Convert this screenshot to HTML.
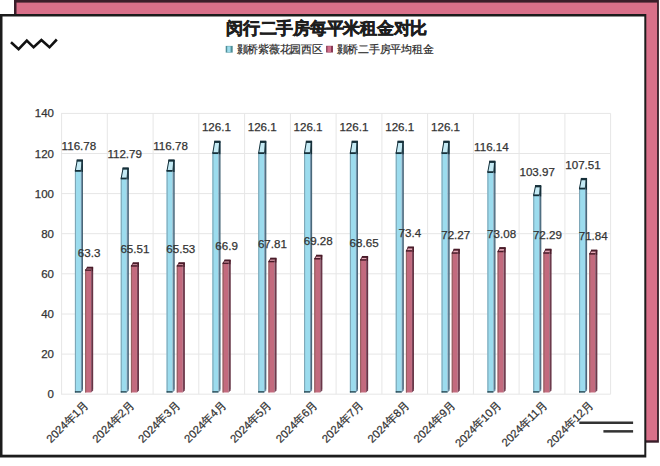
<!DOCTYPE html>
<html><head><meta charset="utf-8"><style>
html,body{margin:0;padding:0;width:660px;height:466px;overflow:hidden;background:#fff}
svg{display:block}
text{font-family:"Liberation Sans",sans-serif;fill:#333;stroke:#333;stroke-width:0.25px}
.ax{font-size:11.5px}
.lb{font-size:11.6px}
.xl{font-size:11.2px}
.tt{font-size:16.8px;font-weight:bold;fill:#1e1e1e;stroke:#1e1e1e;stroke-width:0.55px;letter-spacing:-0.25px}
.lg{font-size:10.7px;fill:#2a2a2a;stroke:#2a2a2a;stroke-width:0.2px;letter-spacing:-0.25px}
</style></head><body>
<svg width="660" height="466" viewBox="0 0 660 466">
<rect x="0" y="0" width="660" height="466" fill="#fff"/>
<!-- pink back frame -->
<rect x="14" y="0" width="644.9" height="442.7" fill="#3a1e2a"/>
<rect x="16.5" y="2.6" width="640.6" height="437.7" fill="#d9708a"/>
<!-- white card -->
<rect x="0" y="14" width="646.3" height="443.5" fill="#1c1c1c"/>
<rect x="2.5" y="16.5" width="641.8" height="438.2" fill="#fff"/>
<!-- zigzag -->
<polyline points="11,42.3 18.6,49.1 26.8,40.5 33.6,47.3 41.4,40 49.5,47.3 56.8,39.5" fill="none" stroke="#111" stroke-width="2.6" stroke-linejoin="miter"/>
<!-- double lines -->
<rect x="579.3" y="421.5" width="53.8" height="2.5" fill="#333"/>
<rect x="603.4" y="430.1" width="29.7" height="2.5" fill="#333"/>
<!-- title -->
<text x="226.2" y="34" class="tt">闵行二手房每平米租金对比</text>
<rect x="225.7" y="45.9" width="7" height="6.7" fill="#4f8f98"/><rect x="227.2" y="46.3" width="3.4" height="6" fill="#9edcec"/>
<text x="236.5" y="52.5" class="lg">颢桥紫薇花园西区</text>
<rect x="326.1" y="45.8" width="6.9" height="6.7" fill="#8a3a55"/><rect x="327.4" y="46.2" width="3.6" height="6" fill="#d0708c"/>
<text x="336.5" y="52.5" class="lg">颢桥二手房平均租金</text>
<line x1="61.1" y1="394.2" x2="610.6" y2="394.2" stroke="#e6e6e6" stroke-width="1"/>
<text x="54" y="398.2" text-anchor="end" class="ax">0</text>
<line x1="61.1" y1="354.1" x2="610.6" y2="354.1" stroke="#e6e6e6" stroke-width="1"/>
<text x="54" y="358.1" text-anchor="end" class="ax">20</text>
<line x1="61.1" y1="314.0" x2="610.6" y2="314.0" stroke="#e6e6e6" stroke-width="1"/>
<text x="54" y="318.0" text-anchor="end" class="ax">40</text>
<line x1="61.1" y1="273.8" x2="610.6" y2="273.8" stroke="#e6e6e6" stroke-width="1"/>
<text x="54" y="277.8" text-anchor="end" class="ax">60</text>
<line x1="61.1" y1="233.7" x2="610.6" y2="233.7" stroke="#e6e6e6" stroke-width="1"/>
<text x="54" y="237.7" text-anchor="end" class="ax">80</text>
<line x1="61.1" y1="193.6" x2="610.6" y2="193.6" stroke="#e6e6e6" stroke-width="1"/>
<text x="54" y="197.6" text-anchor="end" class="ax">100</text>
<line x1="61.1" y1="153.5" x2="610.6" y2="153.5" stroke="#e6e6e6" stroke-width="1"/>
<text x="54" y="157.5" text-anchor="end" class="ax">120</text>
<line x1="61.1" y1="113.4" x2="610.6" y2="113.4" stroke="#e6e6e6" stroke-width="1"/>
<text x="54" y="117.4" text-anchor="end" class="ax">140</text>
<line x1="61.6" y1="113.4" x2="61.6" y2="394.2" stroke="#e6e6e6" stroke-width="1"/>
<line x1="107.3" y1="113.4" x2="107.3" y2="394.2" stroke="#e6e6e6" stroke-width="1"/>
<line x1="153.1" y1="113.4" x2="153.1" y2="394.2" stroke="#e6e6e6" stroke-width="1"/>
<line x1="198.8" y1="113.4" x2="198.8" y2="394.2" stroke="#e6e6e6" stroke-width="1"/>
<line x1="244.6" y1="113.4" x2="244.6" y2="394.2" stroke="#e6e6e6" stroke-width="1"/>
<line x1="290.4" y1="113.4" x2="290.4" y2="394.2" stroke="#e6e6e6" stroke-width="1"/>
<line x1="336.1" y1="113.4" x2="336.1" y2="394.2" stroke="#e6e6e6" stroke-width="1"/>
<line x1="381.9" y1="113.4" x2="381.9" y2="394.2" stroke="#e6e6e6" stroke-width="1"/>
<line x1="427.6" y1="113.4" x2="427.6" y2="394.2" stroke="#e6e6e6" stroke-width="1"/>
<line x1="473.4" y1="113.4" x2="473.4" y2="394.2" stroke="#e6e6e6" stroke-width="1"/>
<line x1="519.1" y1="113.4" x2="519.1" y2="394.2" stroke="#e6e6e6" stroke-width="1"/>
<line x1="564.9" y1="113.4" x2="564.9" y2="394.2" stroke="#e6e6e6" stroke-width="1"/>
<line x1="610.6" y1="113.4" x2="610.6" y2="394.2" stroke="#e6e6e6" stroke-width="1"/>
<rect x="74.90" y="170.99" width="6.0" height="221.51" fill="#9cdcee"/>
<rect x="74.90" y="170.99" width="1.1" height="221.51" fill="#7ea6b6"/>
<polygon points="80.90,170.99 82.90,159.94 82.90,390.50 80.90,392.50" fill="#6e90a8"/>
<line x1="82.50" y1="159.94" x2="82.50" y2="389.50" stroke="#16303a" stroke-width="0.8" opacity="0.6"/>
<polygon points="74.90,170.99 80.90,170.99 82.90,159.94 76.90,159.94" fill="#c4eaf4"/>
<line x1="77.30" y1="159.94" x2="75.30" y2="170.99" stroke="#16303a" stroke-width="1.00"/>
<line x1="82.20" y1="159.94" x2="82.20" y2="171.99" stroke="#16303a" stroke-width="1.40"/>
<line x1="81.10" y1="170.99" x2="82.20" y2="160.44" stroke="#16303a" stroke-width="0.80"/>
<rect x="76.70" y="159.34" width="6.20" height="2.30" fill="#16303a"/>
<rect x="74.90" y="169.99" width="6.00" height="1.80" fill="#16303a"/>
<rect x="74.90" y="391.30" width="6.0" height="1.2" fill="#16303a"/>
<rect x="85.10" y="270.21" width="6.0" height="122.29" fill="#c36a7e"/>
<rect x="85.10" y="270.21" width="1.1" height="122.29" fill="#94605f"/>
<polygon points="91.10,270.21 93.10,267.22 93.10,390.50 91.10,392.50" fill="#7a4458"/>
<line x1="92.70" y1="267.22" x2="92.70" y2="389.50" stroke="#4a1c2a" stroke-width="0.8" opacity="0.6"/>
<polygon points="85.10,270.21 91.10,270.21 93.10,267.22 87.10,267.22" fill="#e3a5b3"/>
<line x1="87.50" y1="267.22" x2="85.50" y2="270.21" stroke="#4a1c2a" stroke-width="0.85"/>
<line x1="92.40" y1="267.22" x2="92.40" y2="271.21" stroke="#4a1c2a" stroke-width="1.19"/>
<line x1="91.30" y1="270.21" x2="92.40" y2="267.72" stroke="#4a1c2a" stroke-width="0.68"/>
<rect x="86.90" y="266.71" width="6.20" height="1.95" fill="#4a1c2a"/>
<rect x="85.10" y="269.36" width="6.00" height="1.53" fill="#4a1c2a"/>
<text x="78.9" y="149.9" text-anchor="middle" class="lb">116.78</text>
<text x="89.1" y="257.2" text-anchor="middle" class="lb">63.3</text>
<text x="85.8" y="403.0" text-anchor="end" dominant-baseline="central" class="xl" transform="rotate(-45 85.8 403.0)">2024年1月</text>
<rect x="120.73" y="178.60" width="6.0" height="213.90" fill="#9cdcee"/>
<rect x="120.73" y="178.60" width="1.1" height="213.90" fill="#7ea6b6"/>
<polygon points="126.73,178.60 128.73,167.94 128.73,390.50 126.73,392.50" fill="#6e90a8"/>
<line x1="128.33" y1="167.94" x2="128.33" y2="389.50" stroke="#16303a" stroke-width="0.8" opacity="0.6"/>
<polygon points="120.73,178.60 126.73,178.60 128.73,167.94 122.73,167.94" fill="#c4eaf4"/>
<line x1="123.13" y1="167.94" x2="121.13" y2="178.60" stroke="#16303a" stroke-width="1.00"/>
<line x1="128.03" y1="167.94" x2="128.03" y2="179.60" stroke="#16303a" stroke-width="1.40"/>
<line x1="126.93" y1="178.60" x2="128.03" y2="168.44" stroke="#16303a" stroke-width="0.80"/>
<rect x="122.53" y="167.34" width="6.20" height="2.30" fill="#16303a"/>
<rect x="120.73" y="177.60" width="6.00" height="1.80" fill="#16303a"/>
<rect x="120.73" y="391.30" width="6.0" height="1.2" fill="#16303a"/>
<rect x="130.93" y="266.00" width="6.0" height="126.50" fill="#c36a7e"/>
<rect x="130.93" y="266.00" width="1.1" height="126.50" fill="#94605f"/>
<polygon points="136.93,266.00 138.93,262.79 138.93,390.50 136.93,392.50" fill="#7a4458"/>
<line x1="138.53" y1="262.79" x2="138.53" y2="389.50" stroke="#4a1c2a" stroke-width="0.8" opacity="0.6"/>
<polygon points="130.93,266.00 136.93,266.00 138.93,262.79 132.93,262.79" fill="#e3a5b3"/>
<line x1="133.33" y1="262.79" x2="131.33" y2="266.00" stroke="#4a1c2a" stroke-width="0.85"/>
<line x1="138.23" y1="262.79" x2="138.23" y2="267.00" stroke="#4a1c2a" stroke-width="1.19"/>
<line x1="137.13" y1="266.00" x2="138.23" y2="263.29" stroke="#4a1c2a" stroke-width="0.68"/>
<rect x="132.73" y="262.28" width="6.20" height="1.95" fill="#4a1c2a"/>
<rect x="130.93" y="265.15" width="6.00" height="1.53" fill="#4a1c2a"/>
<text x="124.7" y="157.9" text-anchor="middle" class="lb">112.79</text>
<text x="134.9" y="252.8" text-anchor="middle" class="lb">65.51</text>
<text x="131.7" y="403.0" text-anchor="end" dominant-baseline="central" class="xl" transform="rotate(-45 131.7 403.0)">2024年2月</text>
<rect x="166.56" y="170.99" width="6.0" height="221.51" fill="#9cdcee"/>
<rect x="166.56" y="170.99" width="1.1" height="221.51" fill="#7ea6b6"/>
<polygon points="172.56,170.99 174.56,159.94 174.56,390.50 172.56,392.50" fill="#6e90a8"/>
<line x1="174.16" y1="159.94" x2="174.16" y2="389.50" stroke="#16303a" stroke-width="0.8" opacity="0.6"/>
<polygon points="166.56,170.99 172.56,170.99 174.56,159.94 168.56,159.94" fill="#c4eaf4"/>
<line x1="168.96" y1="159.94" x2="166.96" y2="170.99" stroke="#16303a" stroke-width="1.00"/>
<line x1="173.86" y1="159.94" x2="173.86" y2="171.99" stroke="#16303a" stroke-width="1.40"/>
<line x1="172.76" y1="170.99" x2="173.86" y2="160.44" stroke="#16303a" stroke-width="0.80"/>
<rect x="168.36" y="159.34" width="6.20" height="2.30" fill="#16303a"/>
<rect x="166.56" y="169.99" width="6.00" height="1.80" fill="#16303a"/>
<rect x="166.56" y="391.30" width="6.0" height="1.2" fill="#16303a"/>
<rect x="176.76" y="265.96" width="6.0" height="126.54" fill="#c36a7e"/>
<rect x="176.76" y="265.96" width="1.1" height="126.54" fill="#94605f"/>
<polygon points="182.76,265.96 184.76,262.75 184.76,390.50 182.76,392.50" fill="#7a4458"/>
<line x1="184.36" y1="262.75" x2="184.36" y2="389.50" stroke="#4a1c2a" stroke-width="0.8" opacity="0.6"/>
<polygon points="176.76,265.96 182.76,265.96 184.76,262.75 178.76,262.75" fill="#e3a5b3"/>
<line x1="179.16" y1="262.75" x2="177.16" y2="265.96" stroke="#4a1c2a" stroke-width="0.85"/>
<line x1="184.06" y1="262.75" x2="184.06" y2="266.96" stroke="#4a1c2a" stroke-width="1.19"/>
<line x1="182.96" y1="265.96" x2="184.06" y2="263.25" stroke="#4a1c2a" stroke-width="0.68"/>
<rect x="178.56" y="262.24" width="6.20" height="1.95" fill="#4a1c2a"/>
<rect x="176.76" y="265.11" width="6.00" height="1.53" fill="#4a1c2a"/>
<text x="170.6" y="149.9" text-anchor="middle" class="lb">116.78</text>
<text x="180.8" y="252.7" text-anchor="middle" class="lb">65.53</text>
<text x="177.6" y="403.0" text-anchor="end" dominant-baseline="central" class="xl" transform="rotate(-45 177.6 403.0)">2024年3月</text>
<rect x="212.39" y="153.23" width="6.0" height="239.27" fill="#9cdcee"/>
<rect x="212.39" y="153.23" width="1.1" height="239.27" fill="#7ea6b6"/>
<polygon points="218.39,153.23 220.39,141.24 220.39,390.50 218.39,392.50" fill="#6e90a8"/>
<line x1="219.99" y1="141.24" x2="219.99" y2="389.50" stroke="#16303a" stroke-width="0.8" opacity="0.6"/>
<polygon points="212.39,153.23 218.39,153.23 220.39,141.24 214.39,141.24" fill="#c4eaf4"/>
<line x1="214.79" y1="141.24" x2="212.79" y2="153.23" stroke="#16303a" stroke-width="1.00"/>
<line x1="219.69" y1="141.24" x2="219.69" y2="154.23" stroke="#16303a" stroke-width="1.40"/>
<line x1="218.59" y1="153.23" x2="219.69" y2="141.74" stroke="#16303a" stroke-width="0.80"/>
<rect x="214.19" y="140.64" width="6.20" height="2.30" fill="#16303a"/>
<rect x="212.39" y="152.23" width="6.00" height="1.80" fill="#16303a"/>
<rect x="212.39" y="391.30" width="6.0" height="1.2" fill="#16303a"/>
<rect x="222.59" y="263.35" width="6.0" height="129.15" fill="#c36a7e"/>
<rect x="222.59" y="263.35" width="1.1" height="129.15" fill="#94605f"/>
<polygon points="228.59,263.35 230.59,260.00 230.59,390.50 228.59,392.50" fill="#7a4458"/>
<line x1="230.19" y1="260.00" x2="230.19" y2="389.50" stroke="#4a1c2a" stroke-width="0.8" opacity="0.6"/>
<polygon points="222.59,263.35 228.59,263.35 230.59,260.00 224.59,260.00" fill="#e3a5b3"/>
<line x1="224.99" y1="260.00" x2="222.99" y2="263.35" stroke="#4a1c2a" stroke-width="0.85"/>
<line x1="229.89" y1="260.00" x2="229.89" y2="264.35" stroke="#4a1c2a" stroke-width="1.19"/>
<line x1="228.79" y1="263.35" x2="229.89" y2="260.50" stroke="#4a1c2a" stroke-width="0.68"/>
<rect x="224.39" y="259.49" width="6.20" height="1.95" fill="#4a1c2a"/>
<rect x="222.59" y="262.50" width="6.00" height="1.53" fill="#4a1c2a"/>
<text x="216.4" y="131.2" text-anchor="middle" class="lb">126.1</text>
<text x="226.6" y="250.0" text-anchor="middle" class="lb">66.9</text>
<text x="223.5" y="403.0" text-anchor="end" dominant-baseline="central" class="xl" transform="rotate(-45 223.5 403.0)">2024年4月</text>
<rect x="258.22" y="153.23" width="6.0" height="239.27" fill="#9cdcee"/>
<rect x="258.22" y="153.23" width="1.1" height="239.27" fill="#7ea6b6"/>
<polygon points="264.22,153.23 266.22,141.24 266.22,390.50 264.22,392.50" fill="#6e90a8"/>
<line x1="265.82" y1="141.24" x2="265.82" y2="389.50" stroke="#16303a" stroke-width="0.8" opacity="0.6"/>
<polygon points="258.22,153.23 264.22,153.23 266.22,141.24 260.22,141.24" fill="#c4eaf4"/>
<line x1="260.62" y1="141.24" x2="258.62" y2="153.23" stroke="#16303a" stroke-width="1.00"/>
<line x1="265.52" y1="141.24" x2="265.52" y2="154.23" stroke="#16303a" stroke-width="1.40"/>
<line x1="264.42" y1="153.23" x2="265.52" y2="141.74" stroke="#16303a" stroke-width="0.80"/>
<rect x="260.02" y="140.64" width="6.20" height="2.30" fill="#16303a"/>
<rect x="258.22" y="152.23" width="6.00" height="1.80" fill="#16303a"/>
<rect x="258.22" y="391.30" width="6.0" height="1.2" fill="#16303a"/>
<rect x="268.42" y="261.61" width="6.0" height="130.89" fill="#c36a7e"/>
<rect x="268.42" y="261.61" width="1.1" height="130.89" fill="#94605f"/>
<polygon points="274.42,261.61 276.42,258.17 276.42,390.50 274.42,392.50" fill="#7a4458"/>
<line x1="276.02" y1="258.17" x2="276.02" y2="389.50" stroke="#4a1c2a" stroke-width="0.8" opacity="0.6"/>
<polygon points="268.42,261.61 274.42,261.61 276.42,258.17 270.42,258.17" fill="#e3a5b3"/>
<line x1="270.82" y1="258.17" x2="268.82" y2="261.61" stroke="#4a1c2a" stroke-width="0.85"/>
<line x1="275.72" y1="258.17" x2="275.72" y2="262.61" stroke="#4a1c2a" stroke-width="1.19"/>
<line x1="274.62" y1="261.61" x2="275.72" y2="258.67" stroke="#4a1c2a" stroke-width="0.68"/>
<rect x="270.22" y="257.66" width="6.20" height="1.95" fill="#4a1c2a"/>
<rect x="268.42" y="260.76" width="6.00" height="1.53" fill="#4a1c2a"/>
<text x="262.2" y="131.2" text-anchor="middle" class="lb">126.1</text>
<text x="272.4" y="248.2" text-anchor="middle" class="lb">67.81</text>
<text x="269.4" y="403.0" text-anchor="end" dominant-baseline="central" class="xl" transform="rotate(-45 269.4 403.0)">2024年5月</text>
<rect x="304.05" y="153.23" width="6.0" height="239.27" fill="#9cdcee"/>
<rect x="304.05" y="153.23" width="1.1" height="239.27" fill="#7ea6b6"/>
<polygon points="310.05,153.23 312.05,141.24 312.05,390.50 310.05,392.50" fill="#6e90a8"/>
<line x1="311.65" y1="141.24" x2="311.65" y2="389.50" stroke="#16303a" stroke-width="0.8" opacity="0.6"/>
<polygon points="304.05,153.23 310.05,153.23 312.05,141.24 306.05,141.24" fill="#c4eaf4"/>
<line x1="306.45" y1="141.24" x2="304.45" y2="153.23" stroke="#16303a" stroke-width="1.00"/>
<line x1="311.35" y1="141.24" x2="311.35" y2="154.23" stroke="#16303a" stroke-width="1.40"/>
<line x1="310.25" y1="153.23" x2="311.35" y2="141.74" stroke="#16303a" stroke-width="0.80"/>
<rect x="305.85" y="140.64" width="6.20" height="2.30" fill="#16303a"/>
<rect x="304.05" y="152.23" width="6.00" height="1.80" fill="#16303a"/>
<rect x="304.05" y="391.30" width="6.0" height="1.2" fill="#16303a"/>
<rect x="314.25" y="258.81" width="6.0" height="133.69" fill="#c36a7e"/>
<rect x="314.25" y="258.81" width="1.1" height="133.69" fill="#94605f"/>
<polygon points="320.25,258.81 322.25,255.22 322.25,390.50 320.25,392.50" fill="#7a4458"/>
<line x1="321.85" y1="255.22" x2="321.85" y2="389.50" stroke="#4a1c2a" stroke-width="0.8" opacity="0.6"/>
<polygon points="314.25,258.81 320.25,258.81 322.25,255.22 316.25,255.22" fill="#e3a5b3"/>
<line x1="316.65" y1="255.22" x2="314.65" y2="258.81" stroke="#4a1c2a" stroke-width="0.85"/>
<line x1="321.55" y1="255.22" x2="321.55" y2="259.81" stroke="#4a1c2a" stroke-width="1.19"/>
<line x1="320.45" y1="258.81" x2="321.55" y2="255.72" stroke="#4a1c2a" stroke-width="0.68"/>
<rect x="316.05" y="254.71" width="6.20" height="1.95" fill="#4a1c2a"/>
<rect x="314.25" y="257.96" width="6.00" height="1.53" fill="#4a1c2a"/>
<text x="308.0" y="131.2" text-anchor="middle" class="lb">126.1</text>
<text x="318.2" y="245.2" text-anchor="middle" class="lb">69.28</text>
<text x="315.3" y="403.0" text-anchor="end" dominant-baseline="central" class="xl" transform="rotate(-45 315.3 403.0)">2024年6月</text>
<rect x="349.88" y="153.23" width="6.0" height="239.27" fill="#9cdcee"/>
<rect x="349.88" y="153.23" width="1.1" height="239.27" fill="#7ea6b6"/>
<polygon points="355.88,153.23 357.88,141.24 357.88,390.50 355.88,392.50" fill="#6e90a8"/>
<line x1="357.48" y1="141.24" x2="357.48" y2="389.50" stroke="#16303a" stroke-width="0.8" opacity="0.6"/>
<polygon points="349.88,153.23 355.88,153.23 357.88,141.24 351.88,141.24" fill="#c4eaf4"/>
<line x1="352.28" y1="141.24" x2="350.28" y2="153.23" stroke="#16303a" stroke-width="1.00"/>
<line x1="357.18" y1="141.24" x2="357.18" y2="154.23" stroke="#16303a" stroke-width="1.40"/>
<line x1="356.08" y1="153.23" x2="357.18" y2="141.74" stroke="#16303a" stroke-width="0.80"/>
<rect x="351.68" y="140.64" width="6.20" height="2.30" fill="#16303a"/>
<rect x="349.88" y="152.23" width="6.00" height="1.80" fill="#16303a"/>
<rect x="349.88" y="391.30" width="6.0" height="1.2" fill="#16303a"/>
<rect x="360.08" y="260.01" width="6.0" height="132.49" fill="#c36a7e"/>
<rect x="360.08" y="260.01" width="1.1" height="132.49" fill="#94605f"/>
<polygon points="366.08,260.01 368.08,256.49 368.08,390.50 366.08,392.50" fill="#7a4458"/>
<line x1="367.68" y1="256.49" x2="367.68" y2="389.50" stroke="#4a1c2a" stroke-width="0.8" opacity="0.6"/>
<polygon points="360.08,260.01 366.08,260.01 368.08,256.49 362.08,256.49" fill="#e3a5b3"/>
<line x1="362.48" y1="256.49" x2="360.48" y2="260.01" stroke="#4a1c2a" stroke-width="0.85"/>
<line x1="367.38" y1="256.49" x2="367.38" y2="261.01" stroke="#4a1c2a" stroke-width="1.19"/>
<line x1="366.28" y1="260.01" x2="367.38" y2="256.99" stroke="#4a1c2a" stroke-width="0.68"/>
<rect x="361.88" y="255.98" width="6.20" height="1.95" fill="#4a1c2a"/>
<rect x="360.08" y="259.16" width="6.00" height="1.53" fill="#4a1c2a"/>
<text x="353.9" y="131.2" text-anchor="middle" class="lb">126.1</text>
<text x="364.1" y="246.5" text-anchor="middle" class="lb">68.65</text>
<text x="361.2" y="403.0" text-anchor="end" dominant-baseline="central" class="xl" transform="rotate(-45 361.2 403.0)">2024年7月</text>
<rect x="395.71" y="153.23" width="6.0" height="239.27" fill="#9cdcee"/>
<rect x="395.71" y="153.23" width="1.1" height="239.27" fill="#7ea6b6"/>
<polygon points="401.71,153.23 403.71,141.24 403.71,390.50 401.71,392.50" fill="#6e90a8"/>
<line x1="403.31" y1="141.24" x2="403.31" y2="389.50" stroke="#16303a" stroke-width="0.8" opacity="0.6"/>
<polygon points="395.71,153.23 401.71,153.23 403.71,141.24 397.71,141.24" fill="#c4eaf4"/>
<line x1="398.11" y1="141.24" x2="396.11" y2="153.23" stroke="#16303a" stroke-width="1.00"/>
<line x1="403.01" y1="141.24" x2="403.01" y2="154.23" stroke="#16303a" stroke-width="1.40"/>
<line x1="401.91" y1="153.23" x2="403.01" y2="141.74" stroke="#16303a" stroke-width="0.80"/>
<rect x="397.51" y="140.64" width="6.20" height="2.30" fill="#16303a"/>
<rect x="395.71" y="152.23" width="6.00" height="1.80" fill="#16303a"/>
<rect x="395.71" y="391.30" width="6.0" height="1.2" fill="#16303a"/>
<rect x="405.91" y="250.96" width="6.0" height="141.54" fill="#c36a7e"/>
<rect x="405.91" y="250.96" width="1.1" height="141.54" fill="#94605f"/>
<polygon points="411.91,250.96 413.91,246.96 413.91,390.50 411.91,392.50" fill="#7a4458"/>
<line x1="413.51" y1="246.96" x2="413.51" y2="389.50" stroke="#4a1c2a" stroke-width="0.8" opacity="0.6"/>
<polygon points="405.91,250.96 411.91,250.96 413.91,246.96 407.91,246.96" fill="#e3a5b3"/>
<line x1="408.31" y1="246.96" x2="406.31" y2="250.96" stroke="#4a1c2a" stroke-width="0.85"/>
<line x1="413.21" y1="246.96" x2="413.21" y2="251.96" stroke="#4a1c2a" stroke-width="1.19"/>
<line x1="412.11" y1="250.96" x2="413.21" y2="247.46" stroke="#4a1c2a" stroke-width="0.68"/>
<rect x="407.71" y="246.45" width="6.20" height="1.95" fill="#4a1c2a"/>
<rect x="405.91" y="250.11" width="6.00" height="1.53" fill="#4a1c2a"/>
<text x="399.7" y="131.2" text-anchor="middle" class="lb">126.1</text>
<text x="409.9" y="237.0" text-anchor="middle" class="lb">73.4</text>
<text x="407.1" y="403.0" text-anchor="end" dominant-baseline="central" class="xl" transform="rotate(-45 407.1 403.0)">2024年8月</text>
<rect x="441.54" y="153.23" width="6.0" height="239.27" fill="#9cdcee"/>
<rect x="441.54" y="153.23" width="1.1" height="239.27" fill="#7ea6b6"/>
<polygon points="447.54,153.23 449.54,141.24 449.54,390.50 447.54,392.50" fill="#6e90a8"/>
<line x1="449.14" y1="141.24" x2="449.14" y2="389.50" stroke="#16303a" stroke-width="0.8" opacity="0.6"/>
<polygon points="441.54,153.23 447.54,153.23 449.54,141.24 443.54,141.24" fill="#c4eaf4"/>
<line x1="443.94" y1="141.24" x2="441.94" y2="153.23" stroke="#16303a" stroke-width="1.00"/>
<line x1="448.84" y1="141.24" x2="448.84" y2="154.23" stroke="#16303a" stroke-width="1.40"/>
<line x1="447.74" y1="153.23" x2="448.84" y2="141.74" stroke="#16303a" stroke-width="0.80"/>
<rect x="443.34" y="140.64" width="6.20" height="2.30" fill="#16303a"/>
<rect x="441.54" y="152.23" width="6.00" height="1.80" fill="#16303a"/>
<rect x="441.54" y="391.30" width="6.0" height="1.2" fill="#16303a"/>
<rect x="451.74" y="253.12" width="6.0" height="139.38" fill="#c36a7e"/>
<rect x="451.74" y="253.12" width="1.1" height="139.38" fill="#94605f"/>
<polygon points="457.74,253.12 459.74,249.23 459.74,390.50 457.74,392.50" fill="#7a4458"/>
<line x1="459.34" y1="249.23" x2="459.34" y2="389.50" stroke="#4a1c2a" stroke-width="0.8" opacity="0.6"/>
<polygon points="451.74,253.12 457.74,253.12 459.74,249.23 453.74,249.23" fill="#e3a5b3"/>
<line x1="454.14" y1="249.23" x2="452.14" y2="253.12" stroke="#4a1c2a" stroke-width="0.85"/>
<line x1="459.04" y1="249.23" x2="459.04" y2="254.12" stroke="#4a1c2a" stroke-width="1.19"/>
<line x1="457.94" y1="253.12" x2="459.04" y2="249.73" stroke="#4a1c2a" stroke-width="0.68"/>
<rect x="453.54" y="248.72" width="6.20" height="1.95" fill="#4a1c2a"/>
<rect x="451.74" y="252.27" width="6.00" height="1.53" fill="#4a1c2a"/>
<text x="445.5" y="131.2" text-anchor="middle" class="lb">126.1</text>
<text x="455.7" y="239.2" text-anchor="middle" class="lb">72.27</text>
<text x="453.0" y="403.0" text-anchor="end" dominant-baseline="central" class="xl" transform="rotate(-45 453.0 403.0)">2024年9月</text>
<rect x="487.37" y="172.21" width="6.0" height="220.29" fill="#9cdcee"/>
<rect x="487.37" y="172.21" width="1.1" height="220.29" fill="#7ea6b6"/>
<polygon points="493.37,172.21 495.37,161.22 495.37,390.50 493.37,392.50" fill="#6e90a8"/>
<line x1="494.97" y1="161.22" x2="494.97" y2="389.50" stroke="#16303a" stroke-width="0.8" opacity="0.6"/>
<polygon points="487.37,172.21 493.37,172.21 495.37,161.22 489.37,161.22" fill="#c4eaf4"/>
<line x1="489.77" y1="161.22" x2="487.77" y2="172.21" stroke="#16303a" stroke-width="1.00"/>
<line x1="494.67" y1="161.22" x2="494.67" y2="173.21" stroke="#16303a" stroke-width="1.40"/>
<line x1="493.57" y1="172.21" x2="494.67" y2="161.72" stroke="#16303a" stroke-width="0.80"/>
<rect x="489.17" y="160.62" width="6.20" height="2.30" fill="#16303a"/>
<rect x="487.37" y="171.21" width="6.00" height="1.80" fill="#16303a"/>
<rect x="487.37" y="391.30" width="6.0" height="1.2" fill="#16303a"/>
<rect x="497.57" y="251.57" width="6.0" height="140.93" fill="#c36a7e"/>
<rect x="497.57" y="251.57" width="1.1" height="140.93" fill="#94605f"/>
<polygon points="503.57,251.57 505.57,247.60 505.57,390.50 503.57,392.50" fill="#7a4458"/>
<line x1="505.17" y1="247.60" x2="505.17" y2="389.50" stroke="#4a1c2a" stroke-width="0.8" opacity="0.6"/>
<polygon points="497.57,251.57 503.57,251.57 505.57,247.60 499.57,247.60" fill="#e3a5b3"/>
<line x1="499.97" y1="247.60" x2="497.97" y2="251.57" stroke="#4a1c2a" stroke-width="0.85"/>
<line x1="504.87" y1="247.60" x2="504.87" y2="252.57" stroke="#4a1c2a" stroke-width="1.19"/>
<line x1="503.77" y1="251.57" x2="504.87" y2="248.10" stroke="#4a1c2a" stroke-width="0.68"/>
<rect x="499.37" y="247.09" width="6.20" height="1.95" fill="#4a1c2a"/>
<rect x="497.57" y="250.72" width="6.00" height="1.53" fill="#4a1c2a"/>
<text x="491.4" y="151.2" text-anchor="middle" class="lb">116.14</text>
<text x="501.6" y="237.6" text-anchor="middle" class="lb">73.08</text>
<text x="498.9" y="403.0" text-anchor="end" dominant-baseline="central" class="xl" transform="rotate(-45 498.9 403.0)">2024年10月</text>
<rect x="533.20" y="195.40" width="6.0" height="197.10" fill="#9cdcee"/>
<rect x="533.20" y="195.40" width="1.1" height="197.10" fill="#7ea6b6"/>
<polygon points="539.20,195.40 541.20,185.64 541.20,390.50 539.20,392.50" fill="#6e90a8"/>
<line x1="540.80" y1="185.64" x2="540.80" y2="389.50" stroke="#16303a" stroke-width="0.8" opacity="0.6"/>
<polygon points="533.20,195.40 539.20,195.40 541.20,185.64 535.20,185.64" fill="#c4eaf4"/>
<line x1="535.60" y1="185.64" x2="533.60" y2="195.40" stroke="#16303a" stroke-width="1.00"/>
<line x1="540.50" y1="185.64" x2="540.50" y2="196.40" stroke="#16303a" stroke-width="1.40"/>
<line x1="539.40" y1="195.40" x2="540.50" y2="186.14" stroke="#16303a" stroke-width="0.80"/>
<rect x="535.00" y="185.04" width="6.20" height="2.30" fill="#16303a"/>
<rect x="533.20" y="194.40" width="6.00" height="1.80" fill="#16303a"/>
<rect x="533.20" y="391.30" width="6.0" height="1.2" fill="#16303a"/>
<rect x="543.40" y="253.08" width="6.0" height="139.42" fill="#c36a7e"/>
<rect x="543.40" y="253.08" width="1.1" height="139.42" fill="#94605f"/>
<polygon points="549.40,253.08 551.40,249.19 551.40,390.50 549.40,392.50" fill="#7a4458"/>
<line x1="551.00" y1="249.19" x2="551.00" y2="389.50" stroke="#4a1c2a" stroke-width="0.8" opacity="0.6"/>
<polygon points="543.40,253.08 549.40,253.08 551.40,249.19 545.40,249.19" fill="#e3a5b3"/>
<line x1="545.80" y1="249.19" x2="543.80" y2="253.08" stroke="#4a1c2a" stroke-width="0.85"/>
<line x1="550.70" y1="249.19" x2="550.70" y2="254.08" stroke="#4a1c2a" stroke-width="1.19"/>
<line x1="549.60" y1="253.08" x2="550.70" y2="249.69" stroke="#4a1c2a" stroke-width="0.68"/>
<rect x="545.20" y="248.68" width="6.20" height="1.95" fill="#4a1c2a"/>
<rect x="543.40" y="252.23" width="6.00" height="1.53" fill="#4a1c2a"/>
<text x="537.2" y="175.6" text-anchor="middle" class="lb">103.97</text>
<text x="547.4" y="239.2" text-anchor="middle" class="lb">72.29</text>
<text x="544.8" y="403.0" text-anchor="end" dominant-baseline="central" class="xl" transform="rotate(-45 544.8 403.0)">2024年11月</text>
<rect x="579.03" y="188.66" width="6.0" height="203.84" fill="#9cdcee"/>
<rect x="579.03" y="188.66" width="1.1" height="203.84" fill="#7ea6b6"/>
<polygon points="585.03,188.66 587.03,178.53 587.03,390.50 585.03,392.50" fill="#6e90a8"/>
<line x1="586.63" y1="178.53" x2="586.63" y2="389.50" stroke="#16303a" stroke-width="0.8" opacity="0.6"/>
<polygon points="579.03,188.66 585.03,188.66 587.03,178.53 581.03,178.53" fill="#c4eaf4"/>
<line x1="581.43" y1="178.53" x2="579.43" y2="188.66" stroke="#16303a" stroke-width="1.00"/>
<line x1="586.33" y1="178.53" x2="586.33" y2="189.66" stroke="#16303a" stroke-width="1.40"/>
<line x1="585.23" y1="188.66" x2="586.33" y2="179.03" stroke="#16303a" stroke-width="0.80"/>
<rect x="580.83" y="177.93" width="6.20" height="2.30" fill="#16303a"/>
<rect x="579.03" y="187.66" width="6.00" height="1.80" fill="#16303a"/>
<rect x="579.03" y="391.30" width="6.0" height="1.2" fill="#16303a"/>
<rect x="589.23" y="253.93" width="6.0" height="138.57" fill="#c36a7e"/>
<rect x="589.23" y="253.93" width="1.1" height="138.57" fill="#94605f"/>
<polygon points="595.23,253.93 597.23,250.09 597.23,390.50 595.23,392.50" fill="#7a4458"/>
<line x1="596.83" y1="250.09" x2="596.83" y2="389.50" stroke="#4a1c2a" stroke-width="0.8" opacity="0.6"/>
<polygon points="589.23,253.93 595.23,253.93 597.23,250.09 591.23,250.09" fill="#e3a5b3"/>
<line x1="591.63" y1="250.09" x2="589.63" y2="253.93" stroke="#4a1c2a" stroke-width="0.85"/>
<line x1="596.53" y1="250.09" x2="596.53" y2="254.93" stroke="#4a1c2a" stroke-width="1.19"/>
<line x1="595.43" y1="253.93" x2="596.53" y2="250.59" stroke="#4a1c2a" stroke-width="0.68"/>
<rect x="591.03" y="249.58" width="6.20" height="1.95" fill="#4a1c2a"/>
<rect x="589.23" y="253.08" width="6.00" height="1.53" fill="#4a1c2a"/>
<text x="583.0" y="168.5" text-anchor="middle" class="lb">107.51</text>
<text x="593.2" y="240.1" text-anchor="middle" class="lb">71.84</text>
<text x="590.7" y="403.0" text-anchor="end" dominant-baseline="central" class="xl" transform="rotate(-45 590.7 403.0)">2024年12月</text>
</svg>
</body></html>
